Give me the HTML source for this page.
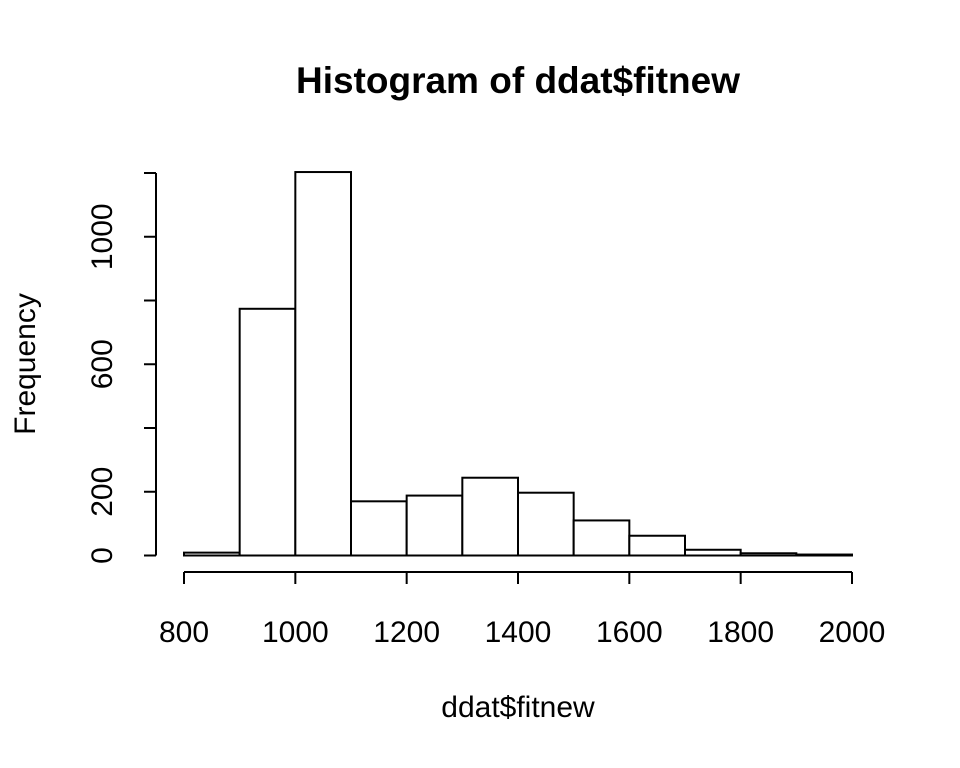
<!DOCTYPE html>
<html><head><meta charset="utf-8"><style>
html,body{margin:0;padding:0;background:#fff;}
svg{display:block;font-family:"Liberation Sans",Arial,sans-serif;}
</style></head><body>
<svg id="chart" width="960" height="768" viewBox="0 0 960 768">
<rect width="960" height="768" fill="#fff"/>
<text x="518" y="93" text-anchor="middle" font-size="37" font-weight="bold">Histogram of ddat$fitnew</text>
<text x="518" y="717" text-anchor="middle" font-size="30">ddat$fitnew</text>
<text transform="translate(35,364) rotate(-90)" text-anchor="middle" font-size="30">Frequency</text>
<g id="bars"></g>
<g id="xaxis"></g>
<g id="yaxis"></g>
</svg>
<script>
const binStarts = [800,900,1000,1100,1200,1300,1400,1500,1600,1700,1800,1900];
const binWidth = 100;
const counts = [9,774,1203,170,188,244,197,110,62,18,7,3];
const xTicks = [800,1000,1200,1400,1600,1800,2000];
const yTicks = [0,200,400,600,800,1000,1200];
const yLabels = ["0","200","","600","","1000",""];

const NS="http://www.w3.org/2000/svg";
function X(v){return 184+(v-800)*(852-184)/1200;}
function Y(v){return 555.5-v*(555.5-173)/1200;}
function mk(tag,attrs,parent){const e=document.createElementNS(NS,tag);for(const k in attrs)e.setAttribute(k,attrs[k]);parent.appendChild(e);return e;}

const bars=document.getElementById('bars');
binStarts.forEach((s,i)=>{
  const x0=X(s),x1=X(s+binWidth),y=Y(counts[i]);
  const r=mk('rect',{x:x0,y:y,width:x1-x0,height:Y(0)-y,fill:'#fff',stroke:'#000','stroke-width':2},bars);
  
  
});

const xa=document.getElementById('xaxis');
mk('line',{x1:X(800),x2:X(2000),y1:572,y2:572,stroke:'#000','stroke-width':2},xa);
xTicks.forEach(t=>{
  mk('line',{x1:X(t),x2:X(t),y1:572,y2:584,stroke:'#000','stroke-width':2},xa);
  const tx=mk('text',{x:X(t),y:642,'text-anchor':'middle','font-size':30},xa);
  tx.textContent=t;
  
  
});

const ya=document.getElementById('yaxis');
mk('line',{x1:156,x2:156,y1:Y(0),y2:Y(1200),stroke:'#000','stroke-width':2},ya);
yTicks.forEach((t,i)=>{
  mk('line',{x1:144,x2:156,y1:Y(t),y2:Y(t),stroke:'#000','stroke-width':2},ya);
  if(yLabels[i]){
    const tx=mk('text',{transform:`translate(112,${Y(t)}) rotate(-90)`,'text-anchor':'middle','font-size':30},ya);
    tx.textContent=yLabels[i];
    
    
  }
});
</script>
</body></html>
